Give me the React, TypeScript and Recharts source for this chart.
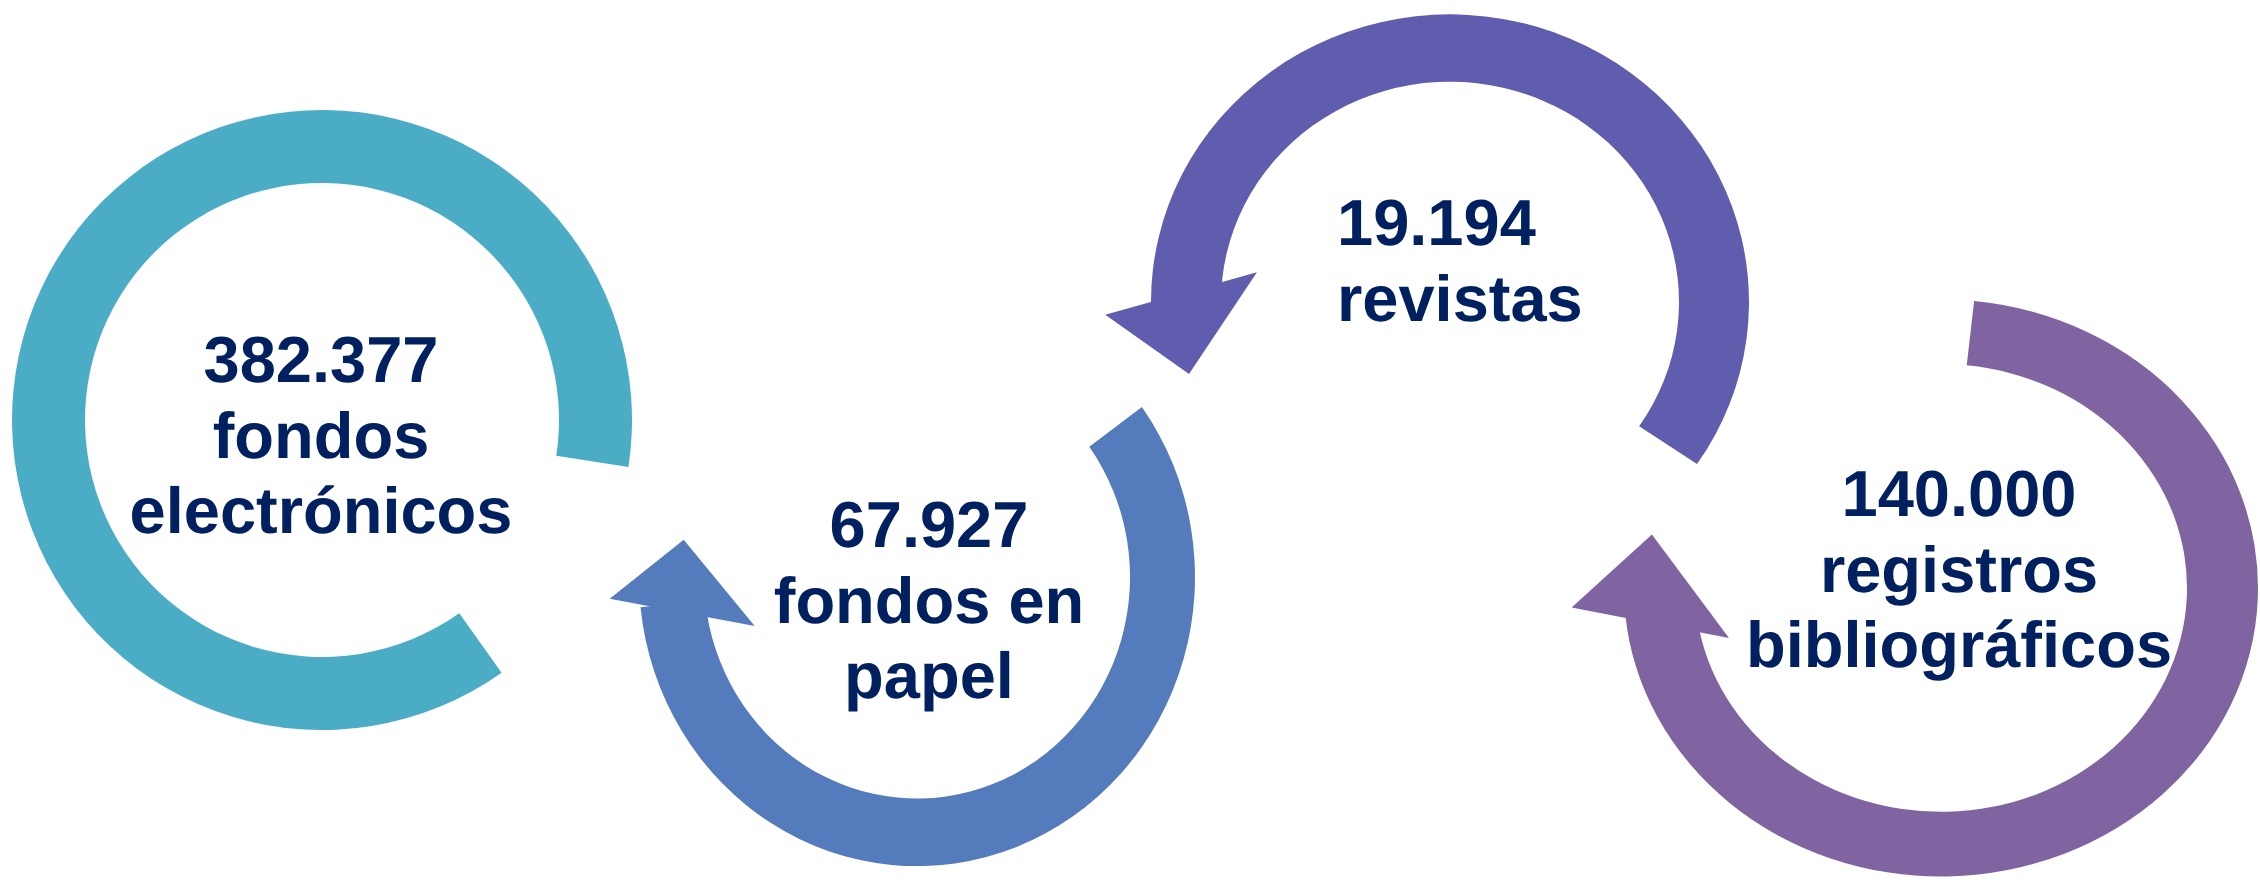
import { Pie, PieChart } from "recharts";

const W = 2260;
const H = 880;
const CH = 1200; // ring canvases are taller so the stretched ellipse is not cut

// cifras y conceptos de cada flecha
const valores = ["382.377", "67.927", "19.194", "140.000"];
const conceptos = [
  ["fondos", "electrónicos"],
  ["fondos en", "papel"],
  ["revistas"],
  ["registros", "bibliográficos"],
];
const colores = ["#4BACC6", "#547BBC", "#615DAE", "#8064A2"];

type Ring = {
  cx: number;
  cy: number;
  rIn: number;
  rOut: number;
  sy: number; // vertical stretch, the shapes are slightly elliptical
  start: number;
  end: number;
  arrow?: [number, number][]; // arrowhead corners as [radius, angle]
};

const rings: Ring[] = [
  { cx: 322, cy: 420, rIn: 237, rOut: 310, sy: 1, start: -8.7, end: 305.4 },
  {
    cx: 917, cy: 577, rIn: 213, rOut: 278, sy: 1.04, start: 186, end: 396,
    arrow: [[308, 183.9], [236, 171.3], [169, 196.2]],
  },
  {
    cx: 1450, cy: 302, rIn: 229, rOut: 299, sy: 0.962, start: -34.3, end: 180.5,
    arrow: [[345, 182.2], [271.5, 196], [195.5, 170.9]],
  },
  {
    cx: 1941, cy: 588, rIn: 246, rOut: 317, sy: 0.91, start: 185, end: 444,
    arrow: [[370, 183.3], [295, 168.5], [219, 194.5]],
  },
];

// text placement: x, first baseline, anchor
const textos = [
  { x: 321, y: 382, anchor: "middle" },
  { x: 929, y: 547, anchor: "middle" },
  { x: 1337, y: 245, anchor: "start" },
  { x: 1959, y: 516, anchor: "middle" },
];
const LINE = 75.5;

const RAD = Math.PI / 180;

function polar(cx: number, cy: number, r: number, a: number) {
  return [cx + r * Math.cos(a * RAD), cy - r * Math.sin(a * RAD)];
}

function RingChart({ ring, i }: { ring: Ring; i: number }) {
  const color = colores[i];
  const arrow = ring.arrow;
  const label = arrow
    ? (p: any) => {
        const cx = p.cx ?? ring.cx;
        const cy = p.cy ?? ring.cy;
        const pts = arrow.map(([r, a]) => polar(cx, cy, r, a).join(",")).join(" ");
        return <polygon key={`arrow-${i}`} points={pts} fill={color} stroke="none" />;
      }
    : false;

  return (
    <div
      style={{
        position: "absolute",
        left: 0,
        top: 0,
        width: W,
        height: CH,
        transform: `scale(1, ${ring.sy})`,
        transformOrigin: `${ring.cx}px ${ring.cy}px`,
      }}
    >
      <PieChart width={W} height={CH} margin={{ top: 0, right: 0, bottom: 0, left: 0 }}>
        <Pie
          data={[{ name: valores[i], value: 1 }]}
          dataKey="value"
          cx={ring.cx}
          cy={ring.cy}
          innerRadius={ring.rIn}
          outerRadius={ring.rOut}
          startAngle={ring.start}
          endAngle={ring.end}
          fill={color}
          stroke="none"
          label={label}
          labelLine={false}
          isAnimationActive={false}
        />
      </PieChart>
    </div>
  );
}

export default function App() {
  return (
    <div
      style={{
        position: "absolute",
        left: 0,
        top: 0,
        width: W,
        height: H,
        background: "#ffffff",
        overflow: "hidden",
      }}
    >
      {rings.map((ring, i) => (
        <RingChart key={i} ring={ring} i={i} />
      ))}
      <svg
        width={W}
        height={H}
        style={{ position: "absolute", left: 0, top: 0 }}
        fontFamily="'Liberation Sans', Arial, sans-serif"
        fontWeight="bold"
        fontSize={65}
        fill="#002060"
        textRendering="geometricPrecision"
      >
        {textos.map((t, i) => (
          <text key={i} x={t.x} y={t.y} textAnchor={t.anchor as any}>
            {[valores[i], ...conceptos[i]].map((line, j) => (
              <tspan key={j} x={t.x} y={t.y + j * LINE}>
                {line}
              </tspan>
            ))}
          </text>
        ))}
      </svg>
    </div>
  );
}
